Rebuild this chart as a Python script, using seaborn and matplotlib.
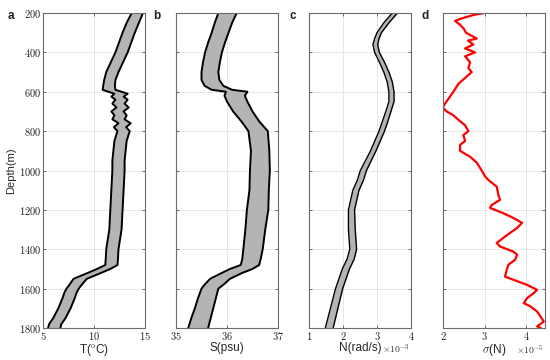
import matplotlib
matplotlib.use("Agg")
import matplotlib.pyplot as plt
import seaborn as sns
import numpy as np
import pandas as pd

sns.set_theme(style="white")
plt.rcParams['font.family'] = ['Liberation Sans', 'DejaVu Sans']
plt.rcParams['mathtext.fontset'] = 'cm'

# ---------------- data ----------------
depth_T = [200, 250, 300, 350, 400, 450, 500, 540, 570, 590, 600, 610, 625, 640, 660, 680,
           700, 720, 740, 760, 780, 800, 850, 900, 950, 1000, 1100, 1200, 1300, 1400, 1450,
           1480, 1500, 1520, 1550, 1580, 1600, 1620, 1650, 1700, 1750, 1780, 1800]
T_low = [13.7, 13.2, 12.8, 12.45, 12.1, 11.65, 11.2, 11.0, 10.9, 10.85, 11.4, 12.0, 11.7, 12.1,
         11.8, 12.2, 11.7, 12.0, 11.8, 12.4, 11.95, 12.3, 12.0, 11.9, 11.8, 11.8, 11.7, 11.6, 11.5,
         11.2, 11.15, 11.1, 10.3, 9.4, 8.0, 7.6, 7.3, 7.1, 6.9, 6.5, 6.0, 5.6, 5.5]
T_high = [14.8, 14.4, 14.0, 13.65, 13.3, 12.85, 12.4, 12.1, 12.05, 12.1, 12.7, 13.3, 12.9, 13.3,
          13.0, 13.4, 12.9, 13.2, 13.0, 13.6, 13.15, 13.5, 13.2, 13.1, 13.0, 13.0, 12.9, 12.8, 12.7,
          12.4, 12.35, 12.3, 11.6, 10.7, 9.3, 8.8, 8.5, 8.3, 8.1, 7.7, 7.2, 6.8, 6.7]

depth_S = [200, 250, 300, 350, 400, 450, 500, 540, 570, 590, 600, 620, 650, 700, 750, 800, 900,
           1000, 1100, 1200, 1300, 1400, 1450, 1480, 1500, 1520, 1550, 1580, 1600, 1650, 1700,
           1750, 1800]
S_low = [35.83, 35.76, 35.70, 35.63, 35.57, 35.53, 35.50, 35.50, 35.56, 35.70, 35.98, 35.95, 36.00,
         36.12, 36.28, 36.42, 36.47, 36.45, 36.44, 36.39, 36.36, 36.32, 36.30, 36.27, 36.06, 35.90,
         35.67, 35.56, 35.50, 35.43, 35.37, 35.30, 35.24]
S_high = [36.19, 36.10, 36.03, 35.96, 35.90, 35.86, 35.83, 35.85, 35.93, 36.10, 36.40, 36.35, 36.40,
          36.50, 36.63, 36.80, 36.83, 36.84, 36.82, 36.81, 36.75, 36.70, 36.66, 36.63, 36.50, 36.30,
          36.06, 35.93, 35.83, 35.78, 35.73, 35.68, 35.63]

# N in units of 1e-3 rad/s
depth_N = [200, 250, 300, 330, 360, 400, 450, 500, 550, 600, 650, 700, 750, 800, 900, 1000, 1050,
           1100, 1200, 1300, 1400, 1450, 1500, 1600, 1700, 1800]
N_low = [3.45, 3.20, 3.00, 2.93, 2.88, 2.93, 3.07, 3.20, 3.30, 3.35, 3.35, 3.26, 3.16, 3.06, 2.81,
         2.51, 2.42, 2.29, 2.16, 2.16, 2.20, 2.12, 1.98, 1.78, 1.63, 1.48]
N_high = [3.60, 3.35, 3.13, 3.06, 3.02, 3.07, 3.22, 3.35, 3.45, 3.50, 3.50, 3.41, 3.32, 3.22, 2.97,
          2.69, 2.60, 2.47, 2.34, 2.36, 2.40, 2.33, 2.19, 1.99, 1.85, 1.71]

# sigma(N) in units of 1e-5
depth_sig = [200, 210, 230, 240, 260, 280, 300, 330, 340, 360, 380, 400, 420, 450, 480, 500, 530,
             560, 600, 630, 660, 680, 700, 720, 750, 770, 800, 820, 850, 870, 900, 930, 960, 1000,
             1030, 1048, 1082, 1124, 1149, 1175, 1190, 1217, 1241, 1266, 1292, 1317, 1342, 1368,
             1386, 1412, 1428, 1454, 1479, 1505, 1539, 1555, 1581, 1606, 1623, 1648, 1674, 1690,
             1716, 1741, 1767, 1792, 1800]
sig = [2.99, 2.73, 2.41, 2.29, 2.41, 2.50, 2.55, 2.81, 2.60, 2.73, 2.53, 2.77, 2.53, 2.65, 2.61,
       2.69, 2.53, 2.37, 2.25, 2.15, 2.05, 1.99, 2.09, 2.25, 2.41, 2.53, 2.61, 2.49, 2.53, 2.41,
       2.41, 2.65, 2.81, 2.93, 3.01, 3.09, 3.29, 3.33, 3.37, 3.17, 3.13, 3.45, 3.69, 3.90, 3.78,
       3.61, 3.45, 3.29, 3.37, 3.69, 3.78, 3.73, 3.57, 3.53, 3.49, 3.69, 4.02, 4.26, 4.18, 4.02,
       3.94, 4.10, 4.26, 4.34, 4.42, 4.26, 4.35]

depth_ticks = [200, 400, 600, 800, 1000, 1200, 1400, 1600, 1800]

# ---------------- figure ----------------
fig = plt.figure(figsize=(5.5, 3.6), dpi=100)
lefts = [43, 176, 309, 443]
W, bottom, top = 102, 328, 13
axes = [fig.add_axes([l / 550, 1 - bottom / 360, W / 550, (bottom - top) / 360]) for l in lefts]

def band(ax, d, lo, hi, lw):
    ax.fill_betweenx(d, lo, hi, color='#b4b4b4', lw=0)
    df = pd.DataFrame({'d': d, 'lo': lo, 'hi': hi})
    sns.lineplot(data=df, x='lo', y='d', orient='y', sort=False, ax=ax, color='black', lw=lw)
    sns.lineplot(data=df, x='hi', y='d', orient='y', sort=False, ax=ax, color='black', lw=lw)

band(axes[0], depth_T, T_low, T_high, 1.4)
band(axes[1], depth_S, S_low, S_high, 1.4)
band(axes[2], depth_N, N_low, N_high, 1.0)
dfs = pd.DataFrame({'d': depth_sig, 's': sig})
sns.lineplot(data=dfs, x='s', y='d', orient='y', sort=False, ax=axes[3], color='red', lw=1.6)

xlims = [(5, 15), (35, 37), (1, 4), (2, 4.45)]
xticks = [[5, 10, 15], [35, 36, 37], [1, 2, 3, 4], [2, 3, 4]]
xlabels = [r'T($^{\rm o}$C)', 'S(psu)', 'N(rad/s)', r'$\sigma$(N)']
letters = ['a', 'b', 'c', 'd']
letter_x = [8, 153, 289, 421]

for i, ax in enumerate(axes):
    ax.set_xlim(*xlims[i])
    ax.set_ylim(1800, 200)
    ax.set_xticks(xticks[i])
    ax.set_xticklabels([f'${t}$' for t in xticks[i]], fontsize=7.5)
    ax.set_yticks(depth_ticks)
    if i == 0:
        ax.set_yticklabels([f'${t}$' for t in depth_ticks], fontsize=7.5)
        ax.set_ylabel('Depth(m)', fontsize=8, labelpad=2)
    else:
        ax.set_yticklabels([])
        ax.set_ylabel('')
    ax.set_xlabel(xlabels[i], fontsize=8.5, labelpad=0)
    ax.grid(True, color='#e3e3e3', lw=0.6)
    ax.tick_params(axis='both', direction='in', length=2.5, width=0.6, color='#555555',
                   top=True, right=True, bottom=True, left=True, pad=1.5, labelcolor='#222222')
    for s in ax.spines.values():
        s.set_color('#6b6b6b')
        s.set_linewidth(0.8)
    fig.text(letter_x[i] / 550, 1 - 16 / 360, letters[i], fontsize=8.5, fontweight='bold',
             va='center', ha='left')

axes[2].text(0.99, -0.068, r'$\times10^{-3}$', transform=axes[2].transAxes, fontsize=7,
             ha='right', va='center', color='#333333')
axes[3].text(0.99, -0.068, r'$\times10^{-5}$', transform=axes[3].transAxes, fontsize=7,
             ha='right', va='center', color='#333333')

fig.savefig('out.png', dpi=100)
